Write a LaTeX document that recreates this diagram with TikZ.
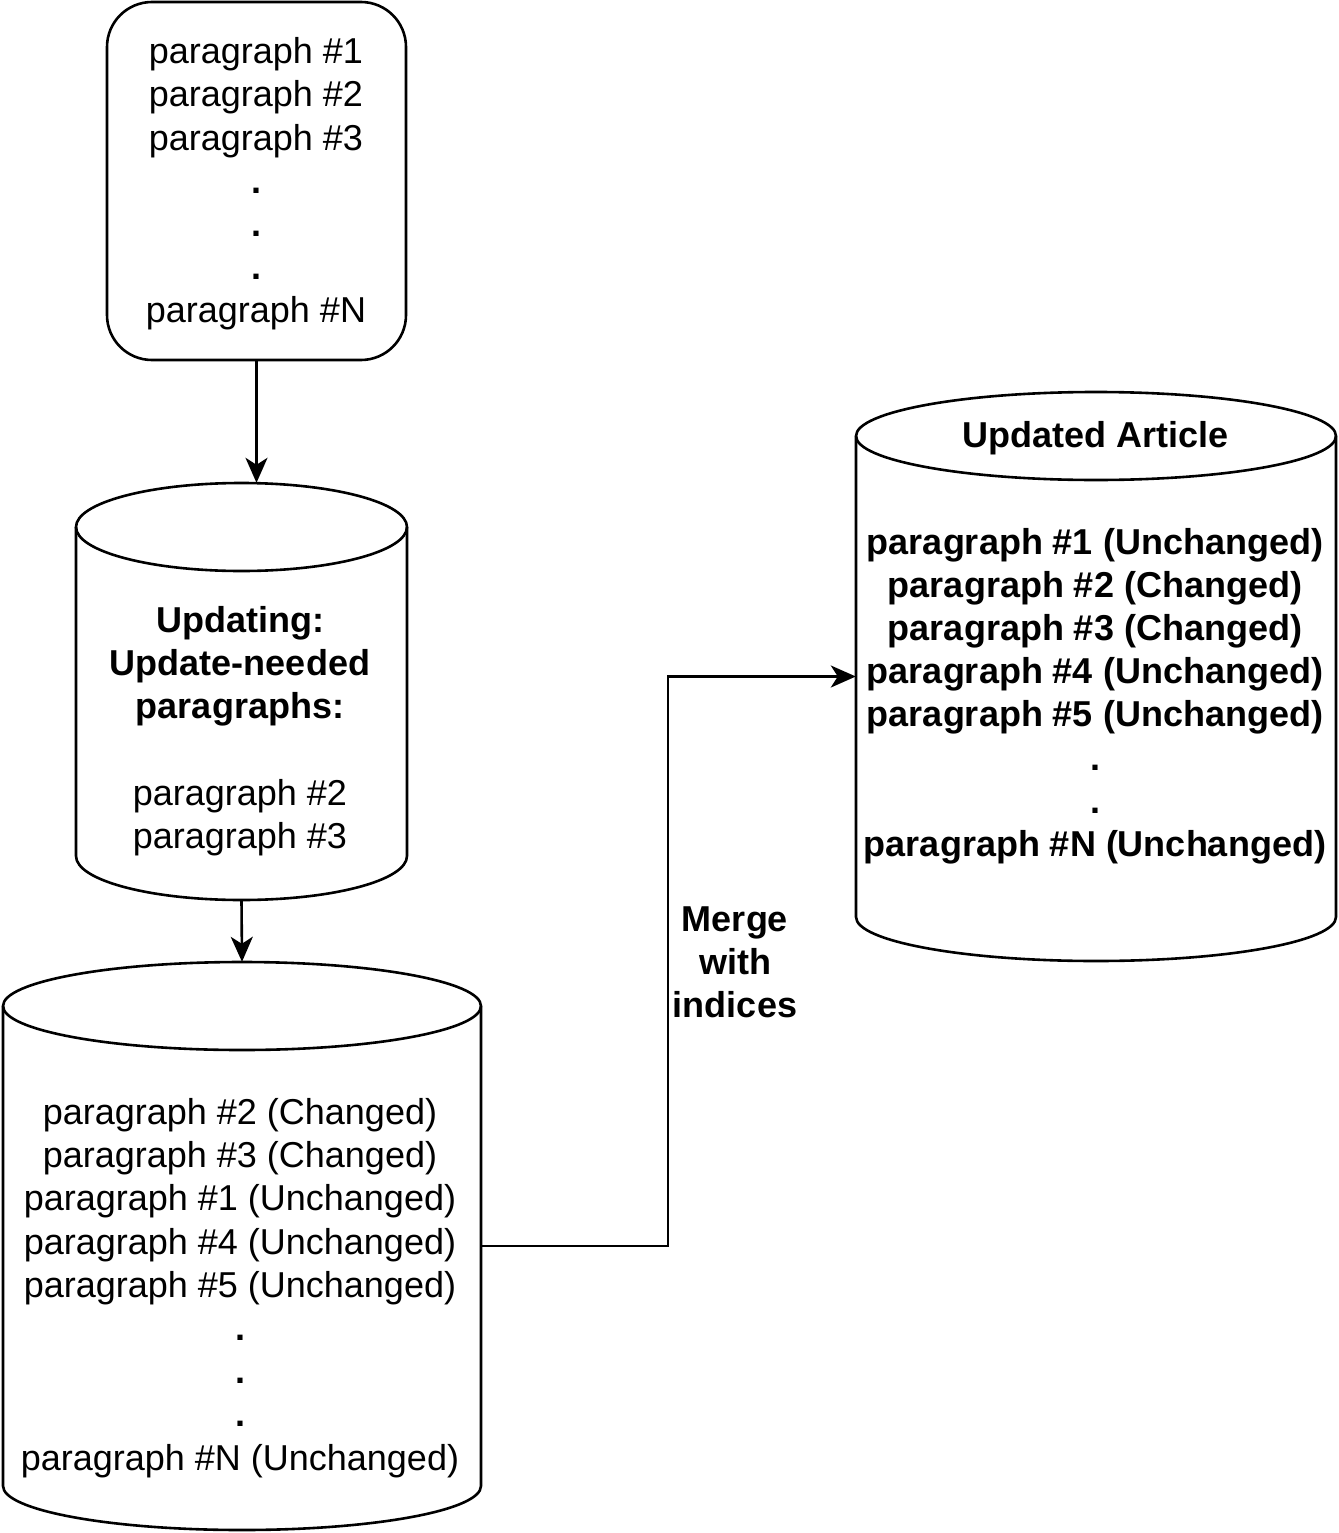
\documentclass[tikz,border=0pt]{standalone}
\usepackage{fontspec}
\setmainfont{Liberation Sans}
\usetikzlibrary{arrows.meta}
\tikzset{
  ln/.style={line width=2.6pt, draw=black},
  arr/.style={ln, -{Stealth[length=25pt,width=22pt,inset=7pt]}},
  txt/.style={font=\fontsize{36}{43.2}\selectfont, align=center, inner sep=0pt},
  btxt/.style={font=\fontsize{36}{43.2}\selectfont\bfseries, align=center, inner sep=0pt},
  bbox/.style={inner sep=0pt, draw=none},
}
% #1 L, #2 R, #3 T, #4 B
\newcommand\drawcyl[4]{%
  \draw[ln] (#1,#3+44) arc[start angle=180, end angle=360, x radius={(#2-#1)/2}, y radius=44]
     -- (#2,#4-44) arc[start angle=0, end angle=180, x radius={(#2-#1)/2}, y radius=44] -- cycle;
  \draw[ln] (#1,#3+44) arc[start angle=180, end angle=0, x radius={(#2-#1)/2}, y radius=44];
}
\begin{document}
\begin{tikzpicture}[x=1pt,y=-1pt]
\useasboundingbox (0,0) rectangle (1338,1533);

% source box
\node[ln, rounded corners=45pt, minimum width=299pt, minimum height=358pt] (src) at (256.5,181) {};
\node[txt] (srct) at (256,184)
  {paragraph \#1\\paragraph \#2\\paragraph \#3\\\textbf{.}\\\textbf{.}\\\textbf{.}\\paragraph \#N};

% cylinder 2
\drawcyl{76}{407}{483}{900}
\node[bbox, minimum width=331pt, minimum height=417pt] (c2) at (241.5,691.5) {};
\node[txt] (c2t) at (240,731) {\textbf{Updating:}\\\textbf{Update-needed}\\\textbf{paragraphs:}\\[43.2pt]paragraph \#2\\paragraph \#3};

% cylinder 3
\drawcyl{3}{481}{962}{1530}
\node[bbox, minimum width=478pt, minimum height=568pt] (c3) at (242,1246) {};
\node[txt] (c3t) at (240,1288) {paragraph \#2 (Changed)\\paragraph \#3 (Changed)\\paragraph \#1 (Unchanged)\\paragraph \#4 (Unchanged)\\paragraph \#5 (Unchanged)\\\textbf{.}\\\textbf{.}\\\textbf{.}\\paragraph \#N (Unchanged)};

% cylinder 4
\drawcyl{856}{1336}{392}{961}
\node[bbox, minimum width=480pt, minimum height=569pt] (c4) at (1096,676.5) {};
\node[btxt] (c4h) at (1096,438) {Updated Article};
\node[btxt] (c4t) at (1095,696) {paragraph \#1 (Unchanged)\\paragraph \#2 (Changed)\\paragraph \#3 (Changed)\\paragraph \#4 (Unchanged)\\paragraph \#5 (Unchanged)\\.\\.\\paragraph \#N (Unchanged)};

% connectors
\draw[arr] (src.south) -- (src.south |- c2.north);
\draw[arr] (c2.south) -- (c3.north);
\coordinate (mx) at (668,0);
\draw[arr] (c3.east) -- (c3.east -| mx) -- (c4.west -| mx) -- (c4.west);
\node[btxt] (lbl) at (735,962) {Merge\\with\\indices};
\end{tikzpicture}
\end{document}
